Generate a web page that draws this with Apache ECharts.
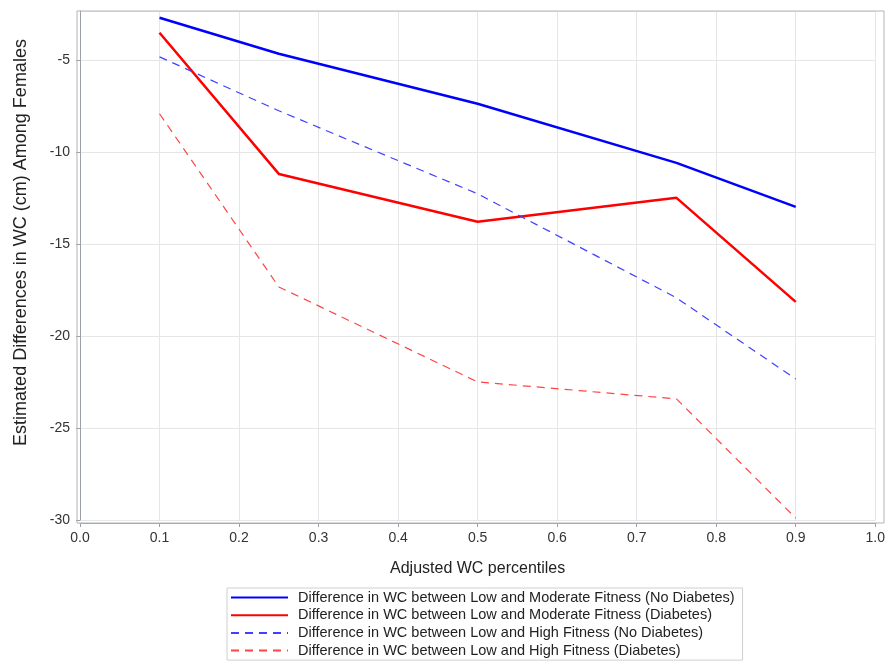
<!DOCTYPE html>
<html><head><meta charset="utf-8">
<script src="https://cdn.jsdelivr.net/npm/echarts@6/dist/echarts.min.js"></script>
<style>html,body{margin:0;padding:0;background:#fff}#c{width:888px;height:663px}</style>
</head><body><div id="c"></div>
<script>
const percentiles = [0.1, 0.25, 0.5, 0.75, 0.9];
const modNoDiab = [-2.72, -4.67, -7.39, -10.6, -12.99];
const modDiab = [-3.53, -11.2, -13.8, -12.5, -18.15];
const highNoDiab = [-4.84, -7.77, -12.28, -17.93, -22.34];
const highDiab = [-7.93, -17.34, -22.5, -23.42, -29.9];
const names = [
  'Difference in WC between Low and Moderate Fitness (No Diabetes)',
  'Difference in WC between Low and Moderate Fitness (Diabetes)',
  'Difference in WC between Low and High Fitness (No Diabetes)',
  'Difference in WC between Low and High Fitness (Diabetes)'
];
const pair = arr => percentiles.map((x, i) => [x, arr[i]]);
const font = 'Liberation Sans, Arial, sans-serif';
const chart = echarts.init(document.getElementById('c'));
function ser(name, data, color, width, type) {
  return {name, type: 'line', data: pair(data), symbol: 'none', showSymbol: false,
    lineStyle: {color, width, type}, itemStyle: {color}, z: 3};
}
chart.setOption({
  animation: false,
  grid: {left: 80, right: 10, top: 11, bottom: 143},
  xAxis: {
    type: 'value', min: 0, max: 1, interval: 0.1, offset: 3,
    name: 'Adjusted WC percentiles', nameLocation: 'middle', nameGap: 38,
    nameTextStyle: {fontFamily: font, fontSize: 16, color: '#222'},
    axisLine: {show: true, lineStyle: {color: '#9aa0a6'}},
    axisTick: {show: true, length: 4, lineStyle: {color: '#9aa0a6'}},
    axisLabel: {fontFamily: font, fontSize: 14, color: '#333', margin: 8,
      formatter: v => v.toFixed(1)},
    splitLine: {show: true, lineStyle: {color: '#e6e6e6', width: 1}}
  },
  yAxis: {
    type: 'value', min: -30, max: -2.35, interval: 5, offset: 3,
    name: 'Estimated Differences in WC (cm) Among Females', nameLocation: 'middle', nameGap: 47,
    nameTextStyle: {fontFamily: font, fontSize: 18, color: '#222', padding: [0, 0, 0, 46]},
    axisLine: {show: true, lineStyle: {color: '#9aa0a6'}},
    axisTick: {show: true, length: 4, lineStyle: {color: '#9aa0a6'}},
    axisLabel: {fontFamily: font, fontSize: 14, color: '#333', margin: 7, showMaxLabel: false},
    splitLine: {show: true, lineStyle: {color: '#e6e6e6', width: 1}}
  },
  legend: {
    orient: 'vertical', left: 227, top: 588, height: 74,
    itemWidth: 57, itemHeight: 14, itemGap: 2.7,
    padding: [2, 8, 2, 3],
    borderColor: '#cfcfcf', borderWidth: 1,
    itemStyle: {opacity: 0},
    textStyle: {fontFamily: font, fontSize: 14.5, color: '#222', padding: [0, 0, 0, 5]},
    data: names
  },
  graphic: [{
    type: 'rect', shape: {x: 77, y: 11, width: 807, height: 512},
    style: {fill: 'none', stroke: '#b0b5ba', lineWidth: 1}, silent: true, z: 1
  }],
  series: [
    ser(names[0], modNoDiab, '#0000ff', 2.5, 'solid'),
    ser(names[1], modDiab, '#ff0000', 2.5, 'solid'),
    ser(names[2], highNoDiab, '#4040ff', 1.2, [8, 6]),
    ser(names[3], highDiab, '#ff4545', 1.2, [8, 6])
  ]
});
</script></body></html>
